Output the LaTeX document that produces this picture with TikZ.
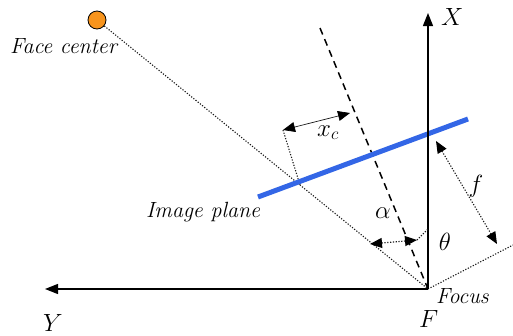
\documentclass[tikz,border=0pt]{standalone}
\usepackage{tikz}
\usetikzlibrary{arrows.meta,calc}
\definecolor{facefill}{HTML}{F7941D}
\definecolor{planeblue}{HTML}{3366E6}
\definecolor{guidegray}{HTML}{1A1A1A}
\tikzset{
  axis/.style={line width=1.3pt,-{Triangle[length=13pt,width=10pt]}},
  guide/.style={dash pattern=on 1.2pt off 1.6pt,line width=1.1pt,color=guidegray},
  optaxis/.style={line width=1.5pt,dash pattern=on 7pt off 5pt},
  dimarrow/.style={{Triangle[length=12pt,width=10pt,color=black]}-{Triangle[length=12pt,width=10pt,color=black]}},
  lbl/.style={font=\fontsize{22}{26}\selectfont\itshape,inner sep=0pt},
  sym/.style={font=\fontsize{24}{28}\selectfont,inner sep=0pt},
}
\begin{document}
\begin{tikzpicture}[x=1pt,y=-1pt]
    \useasboundingbox (0,0) rectangle (513,335);
    % points
    \coordinate (F) at (428,289);
    \coordinate (xtip) at (428,13);
    \coordinate (ytip) at (45,289);
    \coordinate (optop) at (320,28);
    \coordinate (planeL) at (258,197);
    \coordinate (planeR) at (468,119);
    \coordinate (hit) at (300,185);
    \coordinate (lensR) at (513,245);
    \coordinate (xcL) at (283,130);
    \coordinate (xcR) at (350,113);
    \coordinate (alL) at (370,244);
    \coordinate (alR) at (417,240);
    \coordinate (alE) at (428,229);
    \coordinate (fT) at (436,141);
    \coordinate (fB) at (497,244);
    % face
    \node[circle,draw,fill=facefill,line width=0.8pt,minimum size=18pt,inner sep=0pt] (face) at (97,20) {};
    % rays and guides
    \draw[guide] (face) -- (F);
    \draw[guide] (F) -- (lensR);
    \draw[guide] (xcL) -- (hit);
    \draw[optaxis] (optop) -- (F);
    \draw[line width=5pt,planeblue] (planeL) -- (planeR);
    % axes
    \draw[axis] (F) -- (xtip);
    \draw[axis] (F) -- (ytip);
    % dimensions
    \draw[dimarrow,line width=0.7pt,color=guidegray] (xcL) -- (xcR);
    \draw[guide,dimarrow] (alL) -- (alR);
    \draw[guide] (alR) -- (alE);
    \draw[guide,dimarrow] (fT) -- (fB);
    % labels
    \node[lbl,anchor=base west] (facelbl) at (10,53) {Face center};
    \node[lbl,anchor=base west] (planelbl) at (146,217) {Image plane};
    \node[lbl,anchor=base west] (focuslbl) at (436,303) {Focus};
    \node[sym,anchor=base west] (Flbl) at (419,327) {$F$};
    \node[sym,anchor=base west] (Ylbl) at (43,331) {$Y$};
    \node[sym,anchor=base west] (Xlbl) at (441,25) {$X$};
    \node[sym] (alpha) at (383,213) {$\alpha$};
    \node[sym] (theta) at (445,242) {$\theta$};
    \node[sym] (flbl) at (476,186) {$f$};
    \node[sym,anchor=base] (xclbl) at (328,136) {$x_c$};
\end{tikzpicture}
\end{document}
